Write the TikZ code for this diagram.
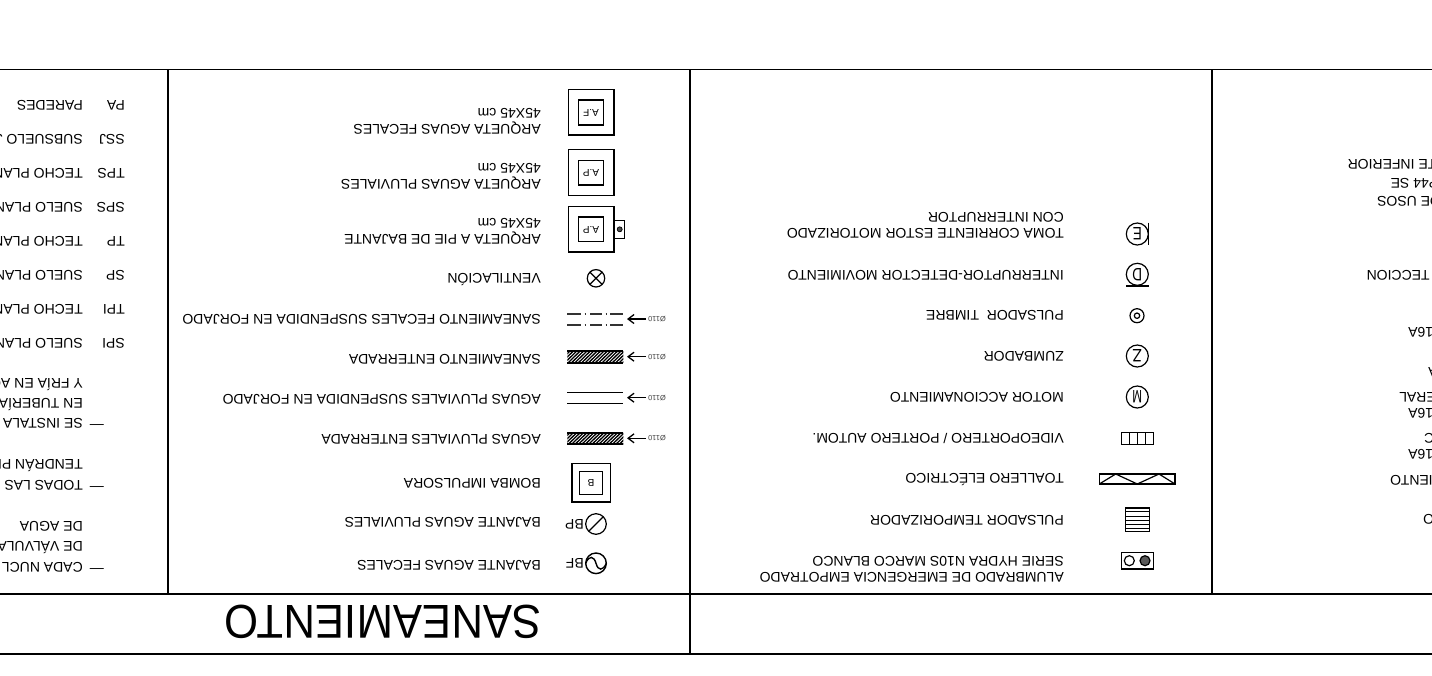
\documentclass[tikz,border=0pt]{standalone}
\usepackage{fontspec}
\setmainfont{Liberation Sans}
\usetikzlibrary{arrows.meta}
\tikzset{
  frameline/.style={line width=1.05pt,black},
  sym/.style={line width=1.2pt,black},
  lbl/.style={yshift=-.8pt,rotate=180,anchor=west,inner sep=0pt,align=left,font=\fontsize{14}{15.6}\selectfont},
  lblr/.style={yshift=-.8pt,rotate=180,anchor=east,inner sep=0pt,font=\fontsize{14}{15.6}\selectfont},
  lblc/.style={lbl,font=\fontsize{14}{16}\selectfont},
  tiny/.style={rotate=180,inner sep=0pt,font=\fontsize{10}{11}\selectfont},
  diam/.style={rotate=180,anchor=west,inner sep=0pt,font=\fontsize{7.4}{8}\selectfont,text=black!75},
  inring/.style={rotate=180,inner sep=0pt,font=\fontsize{18}{19}\selectfont},
  lead/.style={line width=1.3pt,-{Straight Barb[length=6pt,width=9pt,line width=1.3pt]}},
}
\newcommand{\hatchbar}[2]{%
  \begin{scope}
    \clip (567.3,#1) rectangle (623.3,#2);
    \foreach \hx in {558,561.4,...,632}{\draw[line width=1.3pt] (\hx,#2) -- (\hx+12,#1);}
  \end{scope}
  \draw[line width=1.7pt] (567.3,#1) -- (623.3,#1) (567.3,#2) -- (623.3,#2);
}
\begin{document}
\begin{tikzpicture}[x=1pt,y=-1pt]
\useasboundingbox (0,0) rectangle (1432,675);
\clip (0,0) rectangle (1432,675);
\fill[white] (0,0) rectangle (1432,675);

% frame
\draw[frameline] (0,69.5) -- (1432,69.5);
\draw[frameline] (0,594) -- (1432,594);
\draw[frameline] (0,654) -- (1432,654);
\draw[frameline] (168,69.5) -- (168,594);
\draw[frameline] (690,69.5) -- (690,654);
\draw[frameline] (1212,69.5) -- (1212,594);

% title
\node[rotate=180,anchor=west,inner sep=0pt,xscale=.92,font=\fontsize{47.5}{50}\selectfont] (title) at (541.5,622) {SANEAMIENTO};

% column 1 (cut by the left edge)
\node[lbl] (c1) at (125,105) {PA};
\node[lbl] (d1) at (83,105) {PAREDES};
\node[lbl] (c2) at (125,139) {SSJ};
\node[lbl] (d2) at (83,139) {SUBSUELO J};
\node[lbl] (c3) at (125,173) {TPS};
\node[lbl] (d3) at (83,173) {TECHO PLAN};
\node[lbl] (c4) at (125,207) {SPS};
\node[lbl] (d4) at (83,207) {SUELO PLAN};
\node[lbl] (c5) at (125,241) {TP};
\node[lbl] (d5) at (83,241) {TECHO PLAN};
\node[lbl] (c6) at (125,275) {SP};
\node[lbl] (d6) at (83,275) {SUELO PLAN};
\node[lbl] (c7) at (125,309) {TPI};
\node[lbl] (d7) at (83,309) {TECHO PLAN};
\node[lbl] (c8) at (125,343) {SPI};
\node[lbl] (d8) at (83,343) {SUELO PLAN};
\node[lbl] (n1) at (104,423) {—};
\node[lbl] (n1a) at (83,423) {SE INSTALA};
\node[lbl] (n1b) at (83,403.5) {EN TUBERÍA};
\node[lbl] (n1c) at (83,384) {Y FRÍA EN AG};
\node[lbl] (n2) at (104,485) {—};
\node[lbl] (n2a) at (83,485) {TODAS LAS};
\node[lbl] (n2b) at (83,465) {TENDRÁN PL};
\node[lbl] (n3) at (104,567) {—};
\node[lbl] (n3a) at (83,567) {CADA NUCL};
\node[lbl] (n3b) at (83,547) {DE VÁLVULA};
\node[lbl] (n3c) at (83,526) {DE AGUA};

% column 2 labels
\node[lbl] (t1) at (541,120.5) {ARQUETA AGUAS FECALES\\45X45 cm};
\node[lbl] (t2) at (541,175.5) {ARQUETA AGUAS PLUVIALES\\45X45 cm};
\node[lbl] (t3) at (541,230.5) {ARQUETA A PIE DE BAJANTE\\45X45 cm};
\node[lbl] (t4) at (541,279) {VENTILACIÓN};
\node[lbl] (t5) at (541,319) {SANEAMIENTO FECALES SUSPENDIDA EN FORJADO};
\node[lbl] (t6) at (541,359) {SANEAMIENTO ENTERRADA};
\node[lbl] (t7) at (541,399) {AGUAS PLUVIALES SUSPENDIDA EN FORJADO};
\node[lbl] (t8) at (541,439) {AGUAS PLUVIALES ENTERRADA};
\node[lbl] (t9) at (541,483) {BOMBA IMPULSORA};
\node[lbl] (t10) at (541,522) {BAJANTE AGUAS PLUVIALES};
\node[lbl] (t11) at (541,565) {BAJANTE AGUAS FECALES};

% column 2 symbols
\draw[sym] (568.3,89.3) rectangle (614,135);
\draw[sym] (578.7,100) rectangle (603.3,125);
\node[tiny] (af) at (591,112.5) {A.F};
\draw[sym] (568.3,149.3) rectangle (614,195.3);
\draw[sym] (578.7,160.3) rectangle (603.3,185);
\node[tiny] (ap1) at (591,172.5) {A.P};
\draw[sym] (568.3,206.7) rectangle (614,252);
\draw[sym] (578.7,217) rectangle (603.3,241.7);
\node[tiny] (ap2) at (591,229.5) {A.P};
\draw[line width=.9pt] (614,220) rectangle (624,238.3);
\draw[fill=black!70,line width=.7pt] (619.7,229.3) circle (2.5);
\draw[sym] (596,278.3) circle (8.7);
\draw[sym] (589.85,272.15) -- (602.15,284.45) (589.85,284.45) -- (602.15,272.15);

% pipes
\foreach \yy in {314,325}{
  \draw[line width=1.5pt,black!80] (567.3,\yy) -- (581,\yy) (590,\yy) -- (601.7,\yy) (610,\yy) -- (623.3,\yy);
  \draw[line width=1.3pt,black!80] (584.5,\yy) -- (585.7,\yy) (605.5,\yy) -- (606.7,\yy);
}
\hatchbar{351}{362.7}
\draw[line width=1.3pt] (567.3,392.7) -- (623.3,392.7) (567.3,403.3) -- (623.3,403.3);
\hatchbar{432.7}{444.3}

\coordinate (p1) at (627,319);
\coordinate (p2) at (627,356.7);
\coordinate (p3) at (627,397.7);
\coordinate (p4) at (627,438.3);
\coordinate (q1) at (646,319);
\coordinate (q2) at (646,356.7);
\coordinate (q3) at (646,397.7);
\coordinate (q4) at (646,438.3);
\draw[lead] (q1) -- (p1);
\draw[lead] (q2) -- (p2);
\draw[lead] (q3) -- (p3);
\draw[lead] (q4) -- (p4);
\node[diam] (o1) at (666,319) {Ø110};
\node[diam] (o2) at (666,356.7) {Ø110};
\node[diam] (o3) at (666,397.7) {Ø110};
\node[diam] (o4) at (666,438.3) {Ø110};

\draw[sym] (572,463.3) rectangle (610.3,502);
\draw[sym] (579.3,471.3) rectangle (602.7,494.3);
\node[tiny] (bomb) at (591,483) {B};
\draw[sym] (596,524) circle (10.3);
\draw[sym] (588.7,531.3) -- (603.3,516.7);
\node[rotate=180,anchor=west,inner sep=0pt,font=\fontsize{14}{14}\selectfont] (bp) at (584,524) {BP};
\draw[line width=1.4pt] (596,563.3) circle (10.3);
\draw[line width=1.4pt] (585.7,563.3) .. controls (589,555) and (594,556) .. (596,563.3) .. controls (598,571) and (603,571) .. (606.3,563.3);
\node[rotate=180,anchor=west,inner sep=0pt,font=\fontsize{14}{14}\selectfont] (bf) at (584,563.3) {BF};

% column 3 labels
\node[lblc] (u1) at (1064,225) {TOMA CORRIENTE ESTOR MOTORIZADO\\CON INTERRUPTOR};
\node[lblc] (u2) at (1064,275) {INTERRUPTOR-DETECTOR MOVIMIENTO};
\node[lblc] (u3) at (1064,315) {PULSADOR \ TIMBRE};
\node[lblc] (u4) at (1064,356) {ZUMBADOR};
\node[lblc] (u5) at (1064,397) {MOTOR ACCIONAMIENTO};
\node[lblc] (u6) at (1064,438) {VIDEOPORTERO / PORTERO AUTOM.};
\node[lblc] (u7) at (1064,479) {TOALLERO ELÉCTRICO};
\node[lblc] (u8) at (1064,520) {PULSADOR TEMPORIZADOR};
\node[lblc] (u9) at (1064,568.5) {ALUMBRADO DE EMERGENCIA EMPOTRADO\\SERIE HYDRA N10S MARCO BLANCO};

% column 3 symbols
\draw[sym] (1137.3,234) circle (11);
\node[inring,xscale=.75] (e) at (1137.3,234) {E};
\draw[sym] (1148.3,222.7) -- (1148.3,245);
\draw[sym] (1137.3,274.3) circle (11);
\node[inring,xscale=.75] (dd) at (1137.3,274.3) {D};
\draw[sym] (1126,286) -- (1148.7,286);
\draw[sym] (1137,315.7) circle (7);
\draw[sym] (1137,315.7) circle (2.7);
\draw[sym] (1137.3,356) circle (11);
\node[inring,xscale=.85] (z) at (1137.3,356) {Z};
\draw[sym] (1137.3,397) circle (11);
\node[inring,xscale=.65] (m) at (1137.3,397) {M};
\draw[sym] (1121.3,432.3) rectangle (1153.3,444.3);
\draw[sym] (1129.3,432.3) -- (1129.3,444.3) (1137.3,432.3) -- (1137.3,444.3) (1145.3,432.3) -- (1145.3,444.3);
\draw[sym] (1099.3,474) rectangle (1175,484);
\draw[sym] (1099.3,484) -- (1115.7,474) -- (1137.3,484) -- (1159,474) -- (1175,484);
\draw[sym] (1125.7,508) rectangle (1149.3,531.7);
\foreach \yy in {511.7,516,520,524.3,528.3}{\draw[line width=1pt] (1125.7,\yy) -- (1149.3,\yy);}
\draw[sym] (1121.3,552.7) rectangle (1153.3,569);
\draw[sym] (1129.3,560.7) circle (5);
\draw[sym,fill=black!65] (1145,560.7) circle (5);

% column 4 (cut by the right edge)
\node[lblr] (r1) at (1347.5,164) {TE INFERIOR};
\node[lblr] (r2) at (1390.5,183) {P44 SE};
\node[lblr] (r3) at (1377,201) {DE USOS};
\node[lblr] (r4) at (1366.5,275) {TECCION};
\node[lblr] (r5) at (1408,332) {16A};
\node[lblr] (r6) at (1428,372) {A};
\node[lblr] (r7) at (1399,397) {ERAL};
\node[lblr] (r8) at (1408,413) {16A};
\node[lblr] (r9) at (1424,438) {C};
\node[lblr] (r10) at (1408,454) {16A};
\node[lblr] (r11) at (1390,480) {IENTO};
\node[lblr] (r12) at (1423,519) {O};
\end{tikzpicture}
\end{document}
